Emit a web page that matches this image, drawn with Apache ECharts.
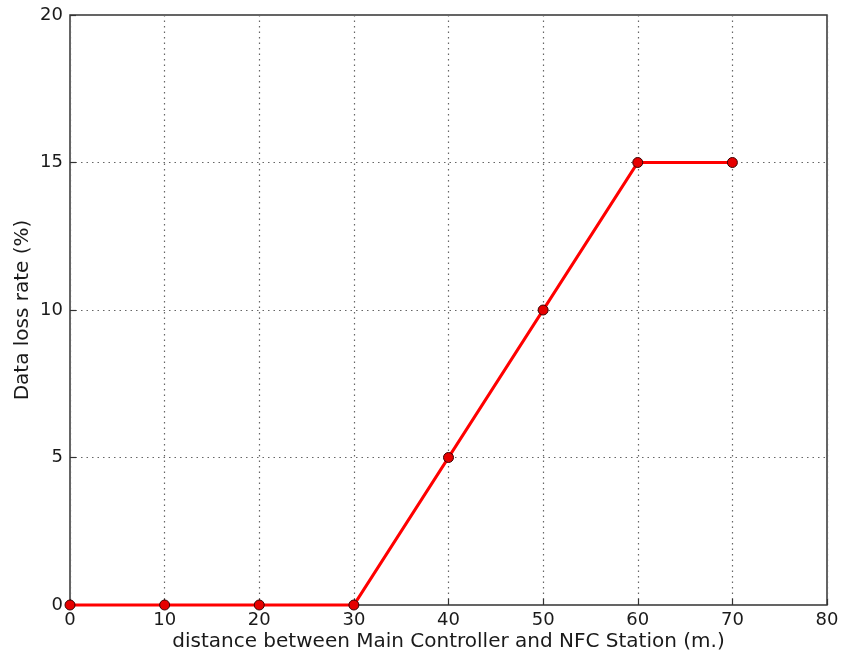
<!DOCTYPE html>
<html><head><meta charset="utf-8">
<script src="https://cdn.jsdelivr.net/npm/echarts@6/dist/echarts.min.js"></script>
<style>html,body{margin:0;padding:0;background:#fff}#c{width:843px;height:657px}</style>
</head><body><div id="c"></div>
<script>
const distances = [0, 10, 20, 30, 40, 50, 60, 70];
const lossRate = [0, 0, 0, 0, 5, 10, 15, 15];
const chart = echarts.init(document.getElementById('c'));
const font = 'DejaVu Sans';
chart.setOption({
  animation: false,
  grid: {left: 70, top: 15, width: 757, height: 590, show: true, borderColor: '#333', borderWidth: 1.5, backgroundColor: 'transparent', containLabel: false, outerBoundsMode: 'none'},
  xAxis: [{
    type: 'value', min: 0, max: 80, interval: 10,
    name: 'distance between Main Controller and NFC Station (m.)',
    nameLocation: 'middle', nameGap: 27, nameMoveOverlap: false,
    nameTextStyle: {fontFamily: font, fontSize: 20, color: '#1a1a1a'},
    axisLine: {show: false},
    axisTick: {show: true, inside: true, length: 6, lineStyle: {color: '#333', width: 1.2}},
    axisLabel: {fontFamily: font, fontSize: 18, color: '#1a1a1a', margin: 6},
    splitLine: {show: true, lineStyle: {color: '#666', type: [1.5, 4], width: 1.2}}
  }],
  yAxis: [{
    type: 'value', min: 0, max: 20, interval: 5,
    name: 'Data loss rate (%)',
    nameLocation: 'middle', nameGap: 37, nameMoveOverlap: false,
    nameTextStyle: {fontFamily: font, fontSize: 20, color: '#1a1a1a'},
    axisLine: {show: false},
    axisTick: {show: true, inside: true, length: 6, lineStyle: {color: '#333', width: 1.2}},
    axisLabel: {fontFamily: font, fontSize: 18, color: '#1a1a1a', margin: 7},
    splitLine: {show: true, lineStyle: {color: '#666', type: [1.5, 4], width: 1.2}}
  }],
  series: [{
    type: 'line',
    data: distances.map((d, i) => [d, lossRate[i]]),
    symbol: 'circle', symbolSize: 10,
    lineStyle: {color: '#ff0000', width: 3.2},
    itemStyle: {color: '#e60000', borderColor: '#3a0000', borderWidth: 1},
    clip: false,
    z: 5
  }]
});
</script></body></html>
